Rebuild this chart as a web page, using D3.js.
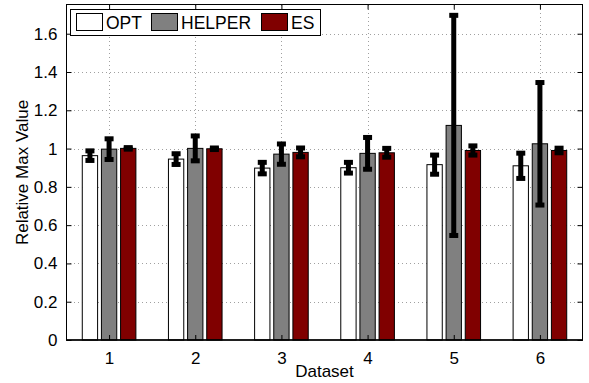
<!DOCTYPE html>
<html>
<head>
<meta charset="utf-8">
<script src="https://cdn.jsdelivr.net/npm/d3@7"></script>
<style>
  html, body { margin: 0; padding: 0; background: #fff; }
  svg { display: block; }
  text { font-family: "Liberation Sans", Arial, Helvetica, sans-serif; fill: #000; }
</style>
</head>
<body>
<svg id="chart" width="589" height="383"></svg>
<script>
// ---- data ----
const categories = [1, 2, 3, 4, 5, 6];
const seriesNames = ["OPT", "HELPER", "ES"];
const optValues    = [0.963, 0.945, 0.898, 0.900, 0.916, 0.910];
const optErrors    = [0.025, 0.028, 0.030, 0.028, 0.050, 0.066];
const helperValues = [0.997, 1.001, 0.971, 0.975, 1.121, 1.025];
const helperErrors = [0.054, 0.065, 0.053, 0.083, 0.575, 0.320];
const esValues     = [1.001, 0.999, 0.980, 0.978, 0.990, 0.990];
const esErrors     = [0.004, 0.004, 0.023, 0.023, 0.024, 0.012];
const yTicks = [0, 0.2, 0.4, 0.6, 0.8, 1, 1.2, 1.4, 1.6];
const yMax = 1.75;
const colors = ["#ffffff", "#808080", "#800000"];

const series = [
  { name: seriesNames[0], values: optValues, errors: optErrors, color: colors[0] },
  { name: seriesNames[1], values: helperValues, errors: helperErrors, color: colors[1] },
  { name: seriesNames[2], values: esValues, errors: esErrors, color: colors[2] }
];

// ---- layout ----
const L = 66, R = 583, T = 5, B = 340;
const svg = d3.select("#chart");
const x = d3.scaleLinear().domain([0.5, 6.5]).range([L, R]);
const y = d3.scaleLinear().domain([0, yMax]).range([B, T]);
const slot = 2 / 9;               // group width 2/3 split into 3 slots
const barW = slot * 0.8;
const offset = d3.scalePoint().domain(seriesNames).range([-slot, slot]);

// grid
const grid = svg.append("g").attr("stroke", "#a0a0a0").attr("stroke-width", 1)
  .attr("stroke-dasharray", "1,3");
grid.selectAll("line.h").data(yTicks.filter(d => d > 0)).enter().append("line")
  .attr("x1", L).attr("x2", R)
  .attr("y1", d => Math.round(y(d)) + 0.5).attr("y2", d => Math.round(y(d)) + 0.5);
grid.selectAll("line.v").data(categories).enter().append("line")
  .attr("y1", T).attr("y2", B)
  .attr("x1", d => Math.round(x(d)) + 0.5).attr("x2", d => Math.round(x(d)) + 0.5);

// bars
const barsG = svg.append("g");
series.forEach(s => {
  barsG.selectAll(null).data(categories).enter().append("rect")
    .attr("x", (c) => x(c + offset(s.name) - barW / 2))
    .attr("width", x(barW) - x(0))
    .attr("y", (c, i) => y(s.values[i]))
    .attr("height", (c, i) => y(0) - y(s.values[i]))
    .attr("fill", s.color)
    .attr("stroke", "#000")
    .attr("stroke-width", 1);
});

// error bars
const errG = svg.append("g").attr("fill", "#000");
series.forEach(s => {
  categories.forEach((c, i) => {
    const cx = x(c + offset(s.name));
    const top = y(s.values[i] + s.errors[i]);
    const bot = y(s.values[i] - s.errors[i]);
    errG.append("rect").attr("x", cx - 2.5).attr("width", 5)
      .attr("y", top).attr("height", bot - top);
    errG.append("rect").attr("x", cx - 4.5).attr("width", 9)
      .attr("y", top - 2.5).attr("height", 5);
    errG.append("rect").attr("x", cx - 4.5).attr("width", 9)
      .attr("y", bot - 2.5).attr("height", 5);
  });
});

// axes frame
svg.append("rect").attr("x", L + 0.5).attr("y", T - 0.5)
  .attr("width", R - L - 1).attr("height", B - T + 0.5)
  .attr("fill", "none").attr("stroke", "#000").attr("stroke-width", 1);
svg.append("line").attr("x1", L).attr("x2", R).attr("y1", B).attr("y2", B)
  .attr("stroke", "#000").attr("stroke-width", 1.5);

// axes with inward ticks
const yAxisL = d3.axisLeft(y).tickValues(yTicks).tickSize(-5).tickPadding(9)
  .tickFormat(d => d3.format("~g")(d));
const gyL = svg.append("g").attr("transform", `translate(${L + 0.5},0)`).call(yAxisL);
const yAxisR = d3.axisRight(y).tickValues(yTicks).tickSize(-5).tickFormat("");
const gyR = svg.append("g").attr("transform", `translate(${R - 0.5},0)`).call(yAxisR);
const xAxisB = d3.axisBottom(x).tickValues(categories).tickSize(-5).tickPadding(12)
  .tickFormat(d3.format("d"));
const gxB = svg.append("g").attr("transform", `translate(0,${B})`).call(xAxisB);
const xAxisT = d3.axisTop(x).tickValues(categories).tickSize(-5).tickFormat("");
const gxT = svg.append("g").attr("transform", `translate(0,${T - 0.5})`).call(xAxisT);
[gyL, gyR, gxB, gxT].forEach(g => {
  g.select(".domain").remove();
  g.selectAll(".tick line").attr("stroke", "#000");
  g.selectAll("text").attr("font-size", 17)
    .attr("font-family", "'Liberation Sans', Arial, sans-serif").attr("fill", "#000");
});

// axis titles
svg.append("text").attr("x", (L + R) / 2).attr("y", 377)
  .attr("text-anchor", "middle").attr("font-size", 17).text("Dataset");
svg.append("text")
  .attr("transform", `translate(28,${(T + B) / 2}) rotate(-90)`)
  .attr("text-anchor", "middle").attr("font-size", 17).text("Relative Max Value");

// legend
const leg = svg.append("g");
leg.append("rect").attr("x", 70.5).attr("y", 9.5).attr("width", 250).attr("height", 26)
  .attr("fill", "#fff").attr("stroke", "#000").attr("stroke-width", 1);
const legX = [76, 151, 261];
series.forEach((s, i) => {
  leg.append("rect").attr("x", legX[i] + 0.5).attr("y", 13.5).attr("width", 26).attr("height", 17)
    .attr("fill", s.color).attr("stroke", "#000").attr("stroke-width", 1);
  leg.append("text").attr("x", legX[i] + 30).attr("y", 29)
    .attr("font-size", 17.5).text(s.name);
});
</script>
</body>
</html>
